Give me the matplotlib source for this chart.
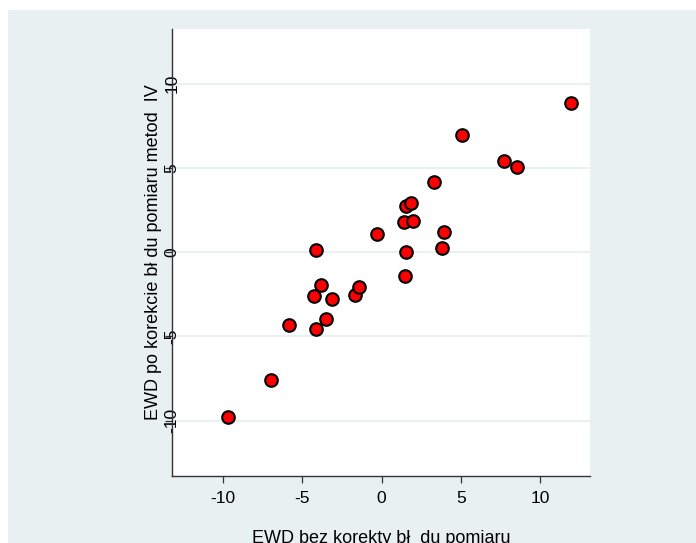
import matplotlib
matplotlib.use("Agg")
import matplotlib.pyplot as plt
from matplotlib.patches import Rectangle

# Data
ewd_bez = [-9.67, -6.97, -5.84, -4.14, -4.27, -3.83, -4.14, -3.51, -3.14, -1.66, -1.45,
           -0.32, 1.49, 1.51, 1.39, 1.53, 1.86, 1.99, 3.31, 3.79, 3.94, 5.06, 7.72, 8.53, 11.93]
ewd_po = [-9.80, -7.60, -4.29, 0.14, -2.60, -1.95, -4.55, -3.99, -2.80, -2.55, -2.09,
          1.07, -1.42, 0.04, 1.79, 2.77, 2.90, 1.83, 4.18, 0.24, 1.19, 6.97, 5.39, 5.07, 8.87]

xticks = [-10, -5, 0, 5, 10]
yticks = [-10, -5, 0, 5, 10]
xlabel = "EWD bez korekty bł  du pomiaru"
ylabel = "EWD po korekcie bł du pomiaru metod  IV"

BG = "#E8F0F2"
plt.rcParams['font.family'] = ['Liberation Sans', 'DejaVu Sans']

fig = plt.figure(figsize=(6.96, 5.43), dpi=100, facecolor="white")
fig.patches.append(Rectangle((8 / 696, 0), 1 - 8 / 696, (543 - 10) / 543,
                             transform=fig.transFigure, facecolor=BG,
                             edgecolor="none", zorder=0))

ax = fig.add_axes([171.7 / 696, (543 - 475.5) / 543, (590 - 171.7) / 696, (475.5 - 29) / 543])
ax.set_facecolor("white")
ax.set_zorder(1)

ax.scatter(ewd_bez, ewd_po, s=82, facecolor="#FF0000", edgecolor="black",
           linewidth=1.5, zorder=3, clip_on=False)

ax.set_xlim(-13.23, 13.13)
ax.set_ylim(-13.25, 13.25)
ax.set_xticks(xticks)
ax.set_yticks(yticks)
ax.set_xticklabels([str(t) for t in xticks], fontsize=12.5)
ax.set_yticklabels([str(t) for t in yticks], fontsize=12.5, rotation=90,
                   va="center", ha="center")

for s in ["top", "right"]:
    ax.spines[s].set_visible(False)
for s in ["left", "bottom"]:
    ax.spines[s].set_color("#333333")
    ax.spines[s].set_linewidth(1.0)

ax.tick_params(axis="x", length=5, width=0.9, color="#333333", pad=6)
ax.tick_params(axis="y", length=5, width=0.9, color="#333333", pad=-5)

ax.yaxis.grid(True, color=BG, linewidth=1.5, zorder=0)
ax.xaxis.grid(False)
ax.set_axisbelow(True)

ax.set_xlabel(xlabel, fontsize=13)
ax.xaxis.set_label_coords(0.5, -0.122)
ax.set_ylabel(ylabel, fontsize=13)
ax.yaxis.set_label_coords(-0.023, 0.5)

fig.savefig("out.png", dpi=100, facecolor="white")
